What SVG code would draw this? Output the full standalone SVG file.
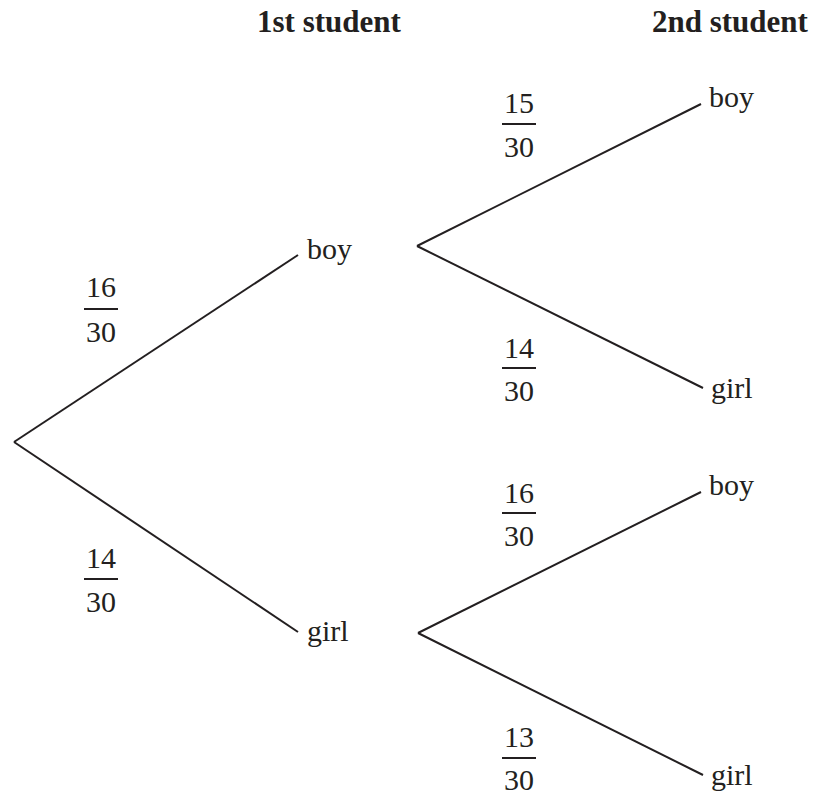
<svg xmlns="http://www.w3.org/2000/svg" width="816" height="799" viewBox="0 0 816 799" font-family="'Times New Roman', 'Liberation Serif', Tinos, serif">
<style>
text{font-family:"Times New Roman","Liberation Serif",Tinos,serif;fill:#231f20;font-size:30px}
.h{font-weight:bold;font-size:31px}
.f{text-anchor:middle}
.e{stroke:#231f20;stroke-width:2;fill:none}
.bar{stroke:#231f20;stroke-width:2}
</style>
<rect width="816" height="799" fill="#fff"/>
<g id="headers">
<text class="h" x="257" y="32">1st student</text>
<text class="h" x="652" y="32">2nd student</text>
</g>
<g id="connectors">
<line class="e" x1="14" y1="442" x2="298" y2="255"/>
<line class="e" x1="14" y1="442" x2="298" y2="632"/>
<line class="e" x1="417" y1="246" x2="701" y2="104"/>
<line class="e" x1="417" y1="246" x2="703" y2="388"/>
<line class="e" x1="418" y1="633" x2="701" y2="492"/>
<line class="e" x1="418" y1="633" x2="703" y2="775"/>
</g>
<g id="node-boy1"><text x="307" y="259">boy</text></g>
<g id="node-girl1"><text x="307" y="641">girl</text></g>
<g id="node-boy-boy"><text x="709" y="107">boy</text></g>
<g id="node-boy-girl"><text x="711" y="398">girl</text></g>
<g id="node-girl-boy"><text x="709" y="495">boy</text></g>
<g id="node-girl-girl"><text x="711" y="785">girl</text></g>
<g id="p-16-30-a">
<text class="f" x="101" y="297">16</text><line class="bar" x1="84" y1="309" x2="118" y2="309"/><text class="f" x="101" y="342">30</text>
</g>
<g id="p-14-30-a">
<text class="f" x="101" y="568">14</text><line class="bar" x1="84" y1="579" x2="118" y2="579"/><text class="f" x="101" y="612">30</text>
</g>
<g id="p-15-30">
<text class="f" x="519" y="113">15</text><line class="bar" x1="502" y1="124" x2="536" y2="124"/><text class="f" x="519" y="157">30</text>
</g>
<g id="p-14-30-b">
<text class="f" x="519" y="358">14</text><line class="bar" x1="502" y1="368" x2="536" y2="368"/><text class="f" x="519" y="401">30</text>
</g>
<g id="p-16-30-b">
<text class="f" x="519" y="503">16</text><line class="bar" x1="502" y1="513" x2="536" y2="513"/><text class="f" x="519" y="546">30</text>
</g>
<g id="p-13-30">
<text class="f" x="519" y="747">13</text><line class="bar" x1="502" y1="758" x2="536" y2="758"/><text class="f" x="519" y="790">30</text>
</g>
</svg>
